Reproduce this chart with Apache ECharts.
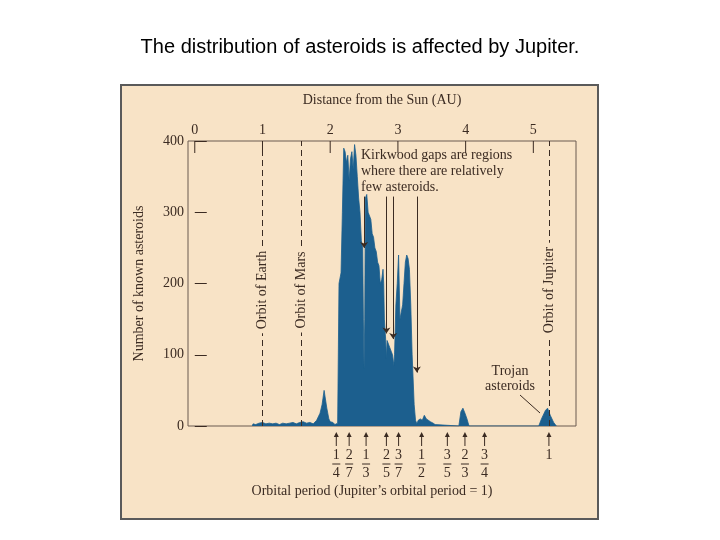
<!DOCTYPE html>
<html>
<head>
<meta charset="utf-8">
<script src="https://cdn.jsdelivr.net/npm/echarts@6/dist/echarts.min.js"></script>
<style>body{margin:0;background:#fff}</style>
</head>
<body>
<div id="main" style="width:720px;height:540px"></div>
<script>
// histogram outline: distance (AU) and number of asteroids
var distanceAU = [0.85,0.86,0.9,0.95,1.0,1.05,1.1,1.15,1.2,1.25,1.3,1.35,1.4,1.45,1.5,1.55,1.6,1.65,1.7,1.75,1.8,1.85,1.88,1.91,1.93,1.95,1.98,2.0,2.04,2.07,2.09,2.11,2.13,2.16,2.18,2.2,2.22,2.24,2.26,2.28,2.30,2.32,2.34,2.36,2.38,2.40,2.42,2.44,2.46,2.48,2.49,2.50,2.51,2.52,2.54,2.56,2.58,2.60,2.62,2.64,2.66,2.68,2.70,2.72,2.74,2.76,2.78,2.79,2.80,2.82,2.83,2.84,2.86,2.88,2.90,2.92,2.94,2.95,2.97,2.99,3.01,3.03,3.05,3.07,3.09,3.11,3.13,3.15,3.17,3.19,3.21,3.24,3.26,3.28,3.30,3.33,3.36,3.39,3.42,3.45,3.48,3.52,3.55,3.57,3.90,3.93,3.96,3.99,4.02,4.05,5.08,5.12,5.18,5.21,5.25,5.30,5.34];
var counts = [0,3,2,4,5,3,4,3,4,2,4,3,4,5,3,5,6,4,5,3,8,18,30,50,48,25,10,6,5,2,0,4,200,215,300,390,385,370,380,345,375,385,360,395,380,350,320,300,260,250,150,80,150,320,325,300,300,290,270,265,250,245,230,225,200,205,220,200,150,120,95,120,115,110,105,100,85,100,170,200,240,150,160,170,200,230,240,235,220,170,100,30,8,3,8,10,8,15,10,8,6,4,2,0,0,20,25,18,10,0,0,10,22,25,15,5,0];

var auTicks = [0,1,2,3,4,5];
var countTicks = [0,100,200,300,400];

var orbitNames = ['Orbit of Earth','Orbit of Mars','Orbit of Jupiter'];
var orbitAU = [1.0,1.57,5.23];

// Kirkwood gap arrows: x position (AU), arrow tip (count)
var gapAU = [2.50,2.83,2.93,3.28];
var gapTip = [250,130,122,75];

// resonances with Jupiter
var resNum = ['1','2','1','2','3','1','3','2','3','1'];
var resDen = ['4','7','3','5','7','2','5','3','4',''];
var resAU = [2.09,2.28,2.53,2.83,3.01,3.35,3.73,3.99,4.28,5.23];

var serif = '"Liberation Serif","DejaVu Serif",serif';
var ink = '#3b2b22';
var paper = '#f8e3c6';
var chart = echarts.init(document.getElementById('main'));

var pts = distanceAU.map(function (x, i) { return [x, counts[i]]; });
var orbitLines = orbitAU.map(function (x) { return { xAxis: x }; });
var gapLines = gapAU.map(function (x, i) {
  return [{ coord: [x, 322] }, { coord: [x, gapTip[i]] }];
});

var baseGraphic = [
  { type: 'rect', z: -10, shape: { x: 121, y: 85, width: 477, height: 434 },
    style: { fill: paper, stroke: '#5a5a5a', lineWidth: 2 } },
  { type: 'text', left: 'center', top: 37,
    style: { text: 'The distribution of asteroids is affected by Jupiter.', font: '20px "Liberation Sans", Arial, sans-serif', fill: '#000' } },
  { type: 'text', x: 361, y: 147,
    style: { text: 'Kirkwood gaps are regions\nwhere there are relatively\nfew asteroids.', font: '14px ' + serif, fill: ink, lineHeight: 16 } },
  { type: 'text', x: 510, y: 364,
    style: { text: 'Trojan\nasteroids', font: '14px ' + serif, fill: ink, lineHeight: 15, align: 'center' } },
  { type: 'line', shape: { x1: 520, y1: 395, x2: 540, y2: 413 }, style: { stroke: ink, lineWidth: 1 } },
  { type: 'text', x: 372, y: 484,
    style: { text: 'Orbital period (Jupiter\u2019s orbital period = 1)', font: '14px ' + serif, fill: ink, align: 'center' } }
];

chart.setOption({
  animation: false,
  grid: { left: 188, right: 144, top: 141, bottom: 114, show: true, borderColor: '#6b5a50', borderWidth: 1 },
  xAxis: {
    type: 'value', position: 'top', min: -0.1, max: 5.63,
    name: 'Distance from the Sun (AU)', nameLocation: 'middle', nameGap: 34,
    nameTextStyle: { color: ink, fontFamily: serif, fontSize: 14 },
    axisLine: { show: false },
    axisTick: { show: false },
    axisLabel: { customValues: auTicks, color: ink, fontFamily: serif, fontSize: 14, margin: 4 },
    splitLine: { show: false }
  },
  yAxis: {
    type: 'value', min: 0, max: 400, interval: 100,
    name: 'Number of known asteroids', nameLocation: 'middle', nameGap: 42,
    nameTextStyle: { color: ink, fontFamily: serif, fontSize: 14 },
    axisLine: { show: false },
    axisTick: { inside: true, length: 12, lineStyle: { color: ink } },
    axisLabel: { color: ink, fontFamily: serif, fontSize: 14, margin: 4 },
    splitLine: { show: false }
  },
  series: [{
    type: 'line', data: pts, symbol: 'none',
    lineStyle: { color: '#1c5f8e', width: 0.8 },
    areaStyle: { color: '#1c5f8e', opacity: 1 },
    markLine: {
      silent: true, symbol: 'none', label: { show: false },
      lineStyle: { color: ink, type: [6, 4], width: 1 },
      data: orbitLines
    }
  }, {
    type: 'line', data: [],
    markLine: {
      silent: true, symbol: ['none', 'arrow'], symbolSize: 6,
      lineStyle: { color: ink, type: 'solid', width: 1 },
      label: { show: false },
      data: gapLines
    }
  }]
});

// elements placed with the axis scales
var extra = [];
var y0 = chart.convertToPixel({ gridIndex: 0 }, [0, 0])[1];
var yTop = chart.convertToPixel({ gridIndex: 0 }, [0, 400])[1];
auTicks.forEach(function (x) {
  var px = chart.convertToPixel({ gridIndex: 0 }, [x, 0])[0];
  extra.push({ type: 'line', shape: { x1: px, y1: yTop, x2: px, y2: yTop + 12 }, style: { stroke: ink, lineWidth: 1 } });
});
orbitAU.forEach(function (x, i) {
  var px = chart.convertToPixel({ gridIndex: 0 }, [x, 0])[0];
  extra.push({ type: 'text', x: px, y: 290, rotation: Math.PI / 2, z: 10,
    style: { text: orbitNames[i], font: '14px ' + serif, fill: ink, align: 'center', verticalAlign: 'middle',
      backgroundColor: paper, padding: [0, 4] } });
});
resAU.forEach(function (x, i) {
  var px = chart.convertToPixel({ gridIndex: 0 }, [x, 0])[0];
  extra.push({ type: 'line', shape: { x1: px, y1: y0 + 20, x2: px, y2: y0 + 8 }, style: { stroke: ink, lineWidth: 1 } });
  extra.push({ type: 'polygon', shape: { points: [[px, y0 + 6], [px - 2.5, y0 + 11], [px + 2.5, y0 + 11]] }, style: { fill: ink } });
  extra.push({ type: 'text', x: px, y: y0 + 22, style: { text: resNum[i], font: '14px ' + serif, fill: ink, align: 'center' } });
  if (resDen[i]) {
    extra.push({ type: 'line', shape: { x1: px - 4, y1: y0 + 38, x2: px + 4, y2: y0 + 38 }, style: { stroke: ink, lineWidth: 1 } });
    extra.push({ type: 'text', x: px, y: y0 + 40, style: { text: resDen[i], font: '14px ' + serif, fill: ink, align: 'center' } });
  }
});
chart.setOption({ graphic: baseGraphic.concat(extra) });
</script>
</body>
</html>
